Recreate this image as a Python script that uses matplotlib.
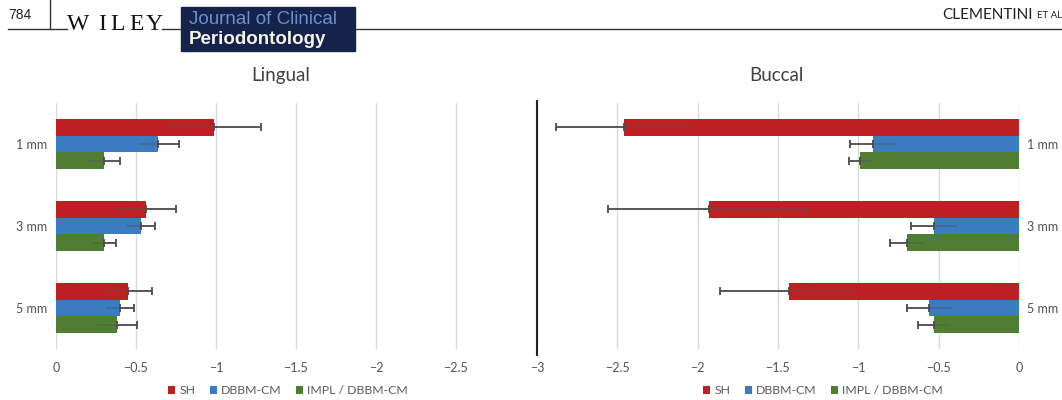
import matplotlib
matplotlib.use("Agg")
import matplotlib.pyplot as plt
import numpy as np
from matplotlib.patches import Rectangle, Patch

plt.rcParams['font.family'] = ['Lato', 'DejaVu Sans']

categories = ["1 mm", "3 mm", "5 mm"]
series = ["SH", "DBBM-CM", "IMPL / DBBM-CM"]
colors = ["#BD1F22", "#3A7BC2", "#4F7D31"]

# Lingual means / SDs (per series, per category)
lingual_mean = {
    "SH": [-0.99, -0.56, -0.45],
    "DBBM-CM": [-0.64, -0.53, -0.40],
    "IMPL / DBBM-CM": [-0.30, -0.30, -0.38],
}
lingual_sd = {
    "SH": [0.29, 0.19, 0.15],
    "DBBM-CM": [0.13, 0.09, 0.09],
    "IMPL / DBBM-CM": [0.10, 0.075, 0.125],
}
# Buccal means / SDs
buccal_mean = {
    "SH": [-2.46, -1.93, -1.43],
    "DBBM-CM": [-0.91, -0.53, -0.56],
    "IMPL / DBBM-CM": [-0.99, -0.70, -0.53],
}
buccal_sd = {
    "SH": [0.42, 0.63, 0.43],
    "DBBM-CM": [0.14, 0.145, 0.14],
    "IMPL / DBBM-CM": [0.07, 0.105, 0.10],
}
lingual_ticks = [0, -0.5, -1, -1.5, -2, -2.5]
buccal_ticks = [-3, -2.5, -2, -1.5, -1, -0.5, 0]

W, H = 1062, 400
fig = plt.figure(figsize=(W / 100, H / 100), dpi=100)

# header overlay
hax = fig.add_axes([0, 0, 1, 1])
hax.set_xlim(0, W)
hax.set_ylim(H, 0)
hax.axis("off")
hax.plot([50, 50], [0, 28], color="#333333", lw=1)
hax.plot([8, 67], [29, 29], color="#333333", lw=1)
hax.plot([162, 181], [29, 29], color="#333333", lw=1)
hax.plot([355, 1062], [29, 29], color="#333333", lw=1)
hax.add_patch(Rectangle((181, 7), 174, 44, color="#15224A"))
hax.text(8, 15, "784", fontsize=10, color="#222222", va="center", ha="left",
         family=["Liberation Sans", "DejaVu Sans"])
for ch, xx in zip("WILEY", [67, 98, 110, 129, 146]):
    hax.text(xx, 30, ch, fontsize=17, color="#111111", va="baseline", ha="left",
             family=["Liberation Serif", "DejaVu Serif"])
hax.text(189, 19, "Journal of Clinical", fontsize=13.5, color="#6F8FCB", va="center",
         ha="left", family=["Liberation Sans", "DejaVu Sans"])
hax.text(189, 39, "Periodontology", fontsize=13.5, color="#F5F3E6", va="center",
         ha="left", fontweight="bold", family=["Liberation Sans", "DejaVu Sans"])
hax.text(1062, 15.5, "ET AL", fontsize=7, color="#222222", va="center", ha="right",
         family=["Lato", "DejaVu Sans"])
hax.text(1033, 15, "CLEMENTINI", fontsize=11, color="#222222", va="center", ha="right",
         family=["Lato", "DejaVu Sans"])

bot = 1 - 349 / H
hgt = 246 / H
axL = fig.add_axes([56 / W, bot, 480 / W, hgt])
axR = fig.add_axes([537 / W, bot, 482 / W, hgt])

ypos = np.arange(len(categories))
bh = 0.207
offsets = [-bh, 0, bh]


def draw(ax, means, sds):
    for s, c, off in zip(series, colors, offsets):
        y = ypos + off
        m = np.array(means[s])
        sd = np.array(sds[s])
        ax.barh(y, m, height=bh, color=c, zorder=2)
        # faint inner part of error bar
        ax.errorbar(m, y, xerr=[np.zeros_like(sd), sd], fmt="none",
                    ecolor="#555555", alpha=0.45, elinewidth=1.3, capsize=0, zorder=3)
        # outer part of error bar
        ax.errorbar(m, y, xerr=[sd, np.zeros_like(sd)], fmt="none",
                    ecolor="#4a4a4a", elinewidth=1.3, capsize=3, capthick=1.3, zorder=3)
    ax.set_ylim(2.5, -0.5)
    ax.set_yticks(ypos)
    ax.set_yticklabels(categories)
    for sp in ax.spines.values():
        sp.set_visible(False)
    ax.grid(axis="x", color="#D9D9D9", lw=1, zorder=0)
    ax.set_axisbelow(True)
    ax.tick_params(length=0, labelsize=9, labelcolor="#505050", pad=6)


draw(axL, lingual_mean, lingual_sd)
axL.set_xlim(0, -3)
axL.set_xticks(lingual_ticks)
axL.set_xticklabels([f"{t:g}".replace("-", "\u2212") for t in lingual_ticks])
axL.tick_params(axis="x", pad=9)
axL.set_title("Lingual", fontsize=13.5, color="#404040", pad=16, x=(281 - 56) / 480)

draw(axR, buccal_mean, buccal_sd)
axR.set_xlim(-3, 0)
axR.set_xticks(buccal_ticks)
axR.set_xticklabels([f"{t:g}".replace("-", "\u2212") for t in buccal_ticks])
axR.tick_params(axis="x", pad=9)
axR.yaxis.tick_right()
axR.tick_params(axis="y", pad=6)
axR.axvline(-3, color="#222222", lw=1.5, zorder=4, ymin=-0.025, ymax=1.01, clip_on=False)
axR.set_title("Buccal", fontsize=13.5, color="#404040", pad=16, x=(776 - 537) / 482)

handles = [Patch(facecolor=c, edgecolor="none", label=s) for s, c in zip(series, colors)]
for cx in (288 / W, 823 / W):
    fig.legend(handles=handles, loc="center", bbox_to_anchor=(cx, 1 - 391 / H), ncol=3,
               frameon=False, fontsize=8.8, handlelength=0.6, handleheight=0.6,
               handletextpad=0.3, columnspacing=1.2, labelcolor="#595959")

fig.savefig("out.png", dpi=100)
